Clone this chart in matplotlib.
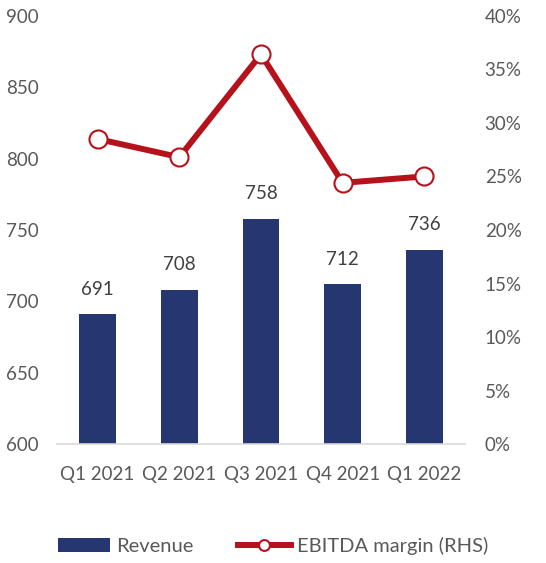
import matplotlib.pyplot as plt
import numpy as np

plt.rcParams['font.family'] = ['Lato', 'DejaVu Sans']

quarters = ['Q1 2021', 'Q2 2021', 'Q3 2021', 'Q4 2021', 'Q1 2022']
revenue = [691, 708, 758, 712, 736]
ebitda_margin = [28.5, 26.8, 36.4, 24.4, 25.0]

navy = '#253670'
red = '#B5121B'
grey = '#595959'

fig = plt.figure(figsize=(5.46, 5.63), dpi=100)
ax = fig.add_axes([0.104, 0.211, 0.748, 0.761])
x = np.arange(len(quarters))

bars = ax.bar(x, revenue, width=0.45, color=navy, label='Revenue', zorder=2)
for xi, val in zip(x, revenue):
    ax.annotate(f'{val}', (xi, val), xytext=(0, 12), textcoords='offset points',
                ha='center', va='bottom', fontsize=13.5, color='#404040')

ax.set_ylim(600, 900)
ax.set_yticks(np.arange(600, 901, 50))
ax.set_xlim(-0.5, len(quarters) - 0.5)
ax.set_xticks(x, quarters)

ax2 = ax.twinx()
line, = ax2.plot(x, ebitda_margin, color=red, lw=4.3, marker='o', ms=13,
                 mfc='white', mec=red, mew=1.5, label='EBITDA margin (RHS)',
                 zorder=3)
ax2.set_ylim(0, 40)
ax2.set_yticks(np.arange(0, 41, 5), [f'{v}%' for v in range(0, 41, 5)])

for a in (ax, ax2):
    for s in a.spines.values():
        s.set_visible(False)
    a.tick_params(length=0, labelsize=13.5, colors=grey)
ax.tick_params(axis='y', pad=13)
ax.tick_params(axis='x', pad=16)
ax2.tick_params(axis='y', pad=14)
ax.spines['bottom'].set_visible(True)
ax.spines['bottom'].set_color('#D9D9D9')
ax.spines['bottom'].set_linewidth(1.2)

fig.legend([bars, line], ['Revenue', 'EBITDA margin (RHS)'], loc='lower center',
           bbox_to_anchor=(0.5, -0.018), ncol=2, frameon=False, fontsize=14.5,
           labelcolor=grey, handlelength=2.6, handletextpad=0.3, columnspacing=2.2,
           markerscale=0.6)

fig.savefig('out.png', dpi=100)
